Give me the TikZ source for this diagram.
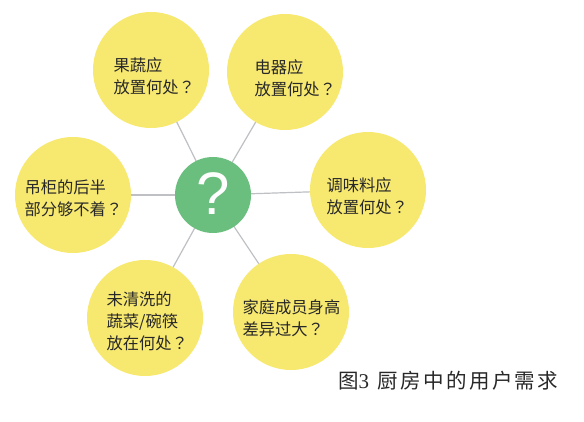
\documentclass[tikz,border=0pt]{standalone}
\usepackage{fontspec}
\setmainfont{Liberation Sans}
\newfontfamily\cjk{Noto Sans CJK SC}
\newfontfamily\cjktc{Noto Sans CJK TC}
\newfontfamily\capfont[LetterSpace=12]{Noto Sans CJK SC}
\newfontfamily\capnum{Liberation Serif}
\usetikzlibrary{backgrounds}
\definecolor{bubble}{RGB}{247,232,112}
\definecolor{hub}{RGB}{106,190,126}
\definecolor{spoke}{RGB}{190,192,196}
\definecolor{txt}{RGB}{40,40,40}
\newcommand{\qm}{{\cjktc ？}}
\begin{document}
\begin{tikzpicture}[x=1pt,y=-1pt,
  bub/.style={circle,fill=bubble,minimum size=116pt,inner sep=0pt},
  lbl/.style={font=\cjk\fontsize{16.3}{22}\selectfont,text=txt,align=left,anchor=west},
  spk/.style={draw=spoke,line width=1.2pt}]
\useasboundingbox (0,0) rectangle (584,422);
\node[bub] (b1) at (151,70) {};
\node[bub] (b2) at (285,72) {};
\node[bub] (b3) at (73,195) {};
\node[bub] (b4) at (368,190) {};
\node[bub] (b5) at (145,318) {};
\node[bub] (b6) at (291,312) {};
\node[circle,fill=hub,minimum size=76pt,inner sep=0pt] (hub) at (213,195) {};
\node[text=white,font=\fontsize{60}{60}\selectfont,inner sep=0pt] (qmark) at (213,194) {?};
\begin{scope}[on background layer]
\fill[white] (0,0) rectangle (584,422);
\draw[spk] (hub.center) -- (b1.center);
\draw[spk] (hub.center) -- (b2.center);
\draw[spk] (hub.center) -- (b3.center);
\draw[spk] (hub.center) -- (b4.center);
\draw[spk] (hub.center) -- (b5.center);
\draw[spk] (hub.center) -- (b6.center);
\end{scope}
\node[lbl] (t1) at (110,76) {果蔬应\\放置何处\qm};
\node[lbl] (t2) at (251,78) {电器应\\放置何处\qm};
\node[lbl] (t3) at (21,198) {吊柜的后半\\部分够不着\qm};
\node[lbl] (t4) at (323,196) {调味料应\\放置何处\qm};
\node[lbl] (t5) at (103,321) {未清洗的\\蔬菜/碗筷\\放在何处\qm};
\node[lbl] (t6) at (239,318) {家庭成员身高\\差异过大\qm};
\node[font=\capfont\fontsize{20.5}{22}\selectfont,text=txt,anchor=west,inner sep=0pt] (cap) at (338,381) {图{\capnum\fontsize{21}{22}\selectfont 3}\hspace{8pt}厨房中的用户需求};
\end{tikzpicture}
\end{document}
